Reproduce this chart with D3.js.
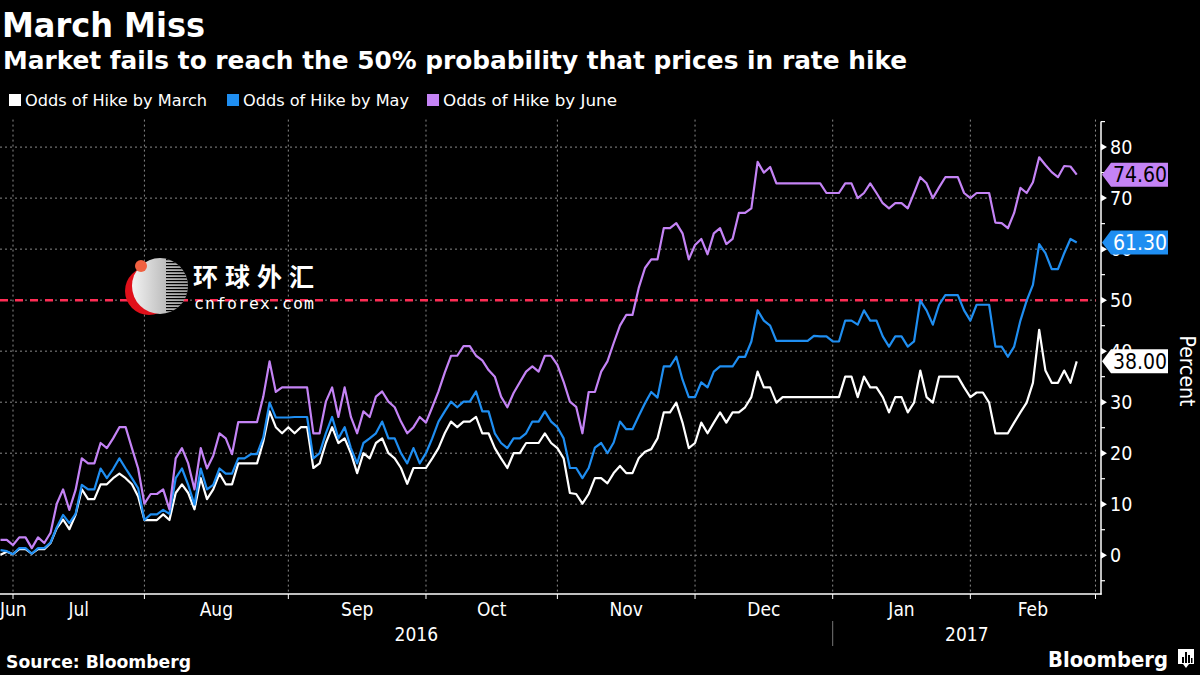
<!DOCTYPE html>
<html>
<head>
<meta charset="utf-8">
<script src="https://cdn.jsdelivr.net/npm/d3@7/dist/d3.min.js"></script>
<style>
  html, body { margin: 0; padding: 0; background: #000; }
  svg { display: block; }
  .cond { font-family: "DejaVu Sans Condensed", "DejaVu Sans", sans-serif; font-stretch: condensed; }
</style>
</head>
<body>
<svg id="chart" width="1200" height="675"></svg>
<script>
// ---------------- DATA ----------------
const title = "March Miss";
const subtitle = "Market fails to reach the 50% probability that prices in rate hike";
const seriesNames = ["Odds of Hike by March", "Odds of Hike by May", "Odds of Hike by June"];
const seriesColors = ["#ffffff", "#1f8ef1", "#c483f5"];
const firstDay = "2016-06-29";   // first weekday shown
const lastAxisDay = "2017-03-01"; // end of the time axis
const monthLabels = ["Jun", "Jul", "Aug", "Sep", "Oct", "Nov", "Dec", "Jan", "Feb"];
const yearLabels = ["2016", "2017"];
const yTicks = [0, 10, 20, 30, 40, 50, 60, 70, 80];
const yMinorTicks = [-5, 5, 15, 25, 35, 45, 55, 65, 75, 85];
const thresholdValue = 50;
const lastValues = [38.00, 61.30, 74.60];

// one value per weekday, starting 2016-06-29
const oddsMarch = [
  0.1, 0.7, 0.2, 1.2, 1.2, 0.3, 1.2, 1.2, 2.4, 5.3,
  7.0, 5.1, 7.9, 12.9, 11.0, 11.0, 13.9, 13.9, 15.1, 16.0,
  15.1, 13.9, 11.5, 6.9, 6.9, 6.9, 8.0, 6.9, 12.2, 13.9,
  12.2, 9.0, 15.1, 11.0, 12.9, 16.0, 13.9, 13.9, 18.0, 18.0,
  18.0, 18.0, 22.3, 28.2, 25.1, 23.9, 25.1,
  23.9, 25.1, 25.1,
  17.1, 18.0, 22.0, 25.1, 22.0, 22.9, 20.0, 16.1, 20.0, 19.0,
  22.0, 22.9, 20.0, 19.0, 17.1, 14.0, 17.1, 17.1, 17.1, 19.0,
  21.0, 23.9, 26.2, 25.1, 26.2, 26.2, 27.1, 23.9, 23.9, 21.0,
  19.0, 17.1, 20.0, 20.0, 22.0, 22.0, 22.0, 23.9, 22.0, 21.0,
  19.0, 12.2,
  12.0, 10.1, 12.0, 15.1, 15.1, 14.1, 16.1, 17.5, 16.1, 16.1,
  19.0, 20.3, 20.8, 22.9, 28.0, 28.0, 29.9, 26.0, 21.0, 22.0,
  26.0, 23.9, 26.0, 28.0, 26.0, 28.0, 28.0, 29.0, 31.0, 36.0,
  32.9, 32.9, 29.9, 31.0, 31.0, 31.0, 31.0, 31.0, 31.0,
  31.0, 31.0, 31.0, 31.0, 35.0, 35.0, 31.0, 35.0, 32.9, 32.9,
  31.0, 28.0, 31.0, 31.0, 28.0, 29.9, 36.2, 31.0, 29.9, 35.0,
  35.0, 35.0, 35.0, 32.9, 31.0, 31.9, 31.9, 29.9, 23.9, 23.9,
  23.9, 26.0, 28.0, 29.9, 33.8, 44.2, 36.2, 33.8, 33.8, 36.2,
  33.8, 38.0
];
const oddsMay = [
  1.0, 0.8, 0.2, 1.4, 1.4, 0.3, 1.4, 1.4, 2.5, 5.5,
  7.9, 6.3, 8.1, 13.8, 12.9, 12.9, 17.0, 15.1, 16.9, 19.0,
  17.0, 15.1, 13.1, 6.9, 8.0, 8.0, 8.9, 8.1, 15.1, 17.0,
  13.8, 9.9, 17.0, 12.9, 13.8, 17.0, 16.0, 16.0, 19.0, 19.0,
  19.8, 19.8, 23.1, 29.9, 27.0, 27.0, 27.0,
  27.1, 27.1, 27.1,
  19.0, 20.0, 23.9, 27.1, 22.9, 25.1, 21.0, 18.0, 22.0, 22.9,
  23.9, 26.2, 22.9, 22.9, 20.0, 18.0, 21.0, 18.0, 20.0, 22.9,
  26.2, 28.2, 30.1, 29.0, 30.1, 30.1, 32.1, 28.2, 28.2, 23.9,
  22.0, 21.0, 22.9, 22.9, 23.9, 26.2, 26.2, 28.2, 26.2, 25.1,
  22.9, 17.1,
  17.1, 15.1, 17.1, 21.1, 22.0, 20.0, 22.1, 26.2, 24.7, 24.7,
  27.3, 29.8, 32.0, 30.9, 37.0, 37.0, 38.9, 34.4, 31.0, 31.0,
  33.9, 32.9, 36.0, 37.0, 37.0, 37.0, 38.9, 38.9, 41.9, 48.0,
  46.0, 45.0, 42.0, 42.0, 42.0, 42.0, 42.0, 42.0, 43.0,
  42.9, 42.9, 41.9, 41.9, 46.0, 46.0, 45.2, 48.0, 46.0, 46.0,
  42.9, 40.9, 42.9, 42.9, 40.9, 41.9, 49.9, 48.0, 45.2, 49.1,
  51.0, 51.0, 51.0, 48.0, 46.0, 49.1, 49.1, 49.1, 40.9, 40.9,
  38.9, 40.9, 46.0, 49.9, 53.0, 61.0, 59.2, 56.1, 56.1, 59.2,
  62.0, 61.3
];
const oddsJune = [
  3.0, 3.0, 2.0, 3.5, 3.5, 1.4, 3.5, 2.4, 4.4, 10.1,
  12.9, 8.9, 12.8, 19.0, 18.0, 18.0, 22.0, 21.0, 22.9, 25.1,
  25.1, 21.0, 17.0, 10.1, 12.0, 12.0, 12.9, 9.0, 19.0, 21.0,
  18.0, 12.9, 21.0, 17.0, 19.5, 23.9, 22.9, 19.8, 26.1, 26.1,
  26.1, 26.1, 31.1, 38.0, 32.0, 32.9, 32.9,
  32.9, 32.9, 32.9,
  23.9, 23.9, 30.1, 32.9, 27.1, 32.9, 27.1, 23.9, 28.2, 27.1,
  31.1, 32.1, 30.1, 29.0, 26.2, 23.9, 25.1, 27.1, 26.0, 29.0,
  32.1, 35.8, 39.1, 39.1, 41.0, 41.0, 39.1, 38.2, 36.3, 35.0,
  31.1, 29.0, 31.8, 33.9, 36.0, 37.0, 36.0, 39.1, 39.1, 37.3,
  34.0, 30.1,
  29.1, 23.9, 32.0, 32.0, 36.0, 38.0, 41.6, 45.0, 47.1, 47.1,
  52.4, 56.3, 58.0, 58.0, 64.1, 64.1, 65.1, 63.1, 58.0, 60.8,
  62.0, 59.0, 63.1, 64.1, 61.0, 62.0, 67.1, 67.1, 68.0, 77.1,
  75.0, 76.1, 72.9, 72.9, 72.9, 72.9, 72.9, 72.9, 72.9,
  72.9, 71.0, 71.0, 71.0, 72.9, 72.9, 70.0, 71.0, 72.9, 71.0,
  69.0, 68.0, 69.0, 69.0, 68.0, 71.0, 74.1, 72.9, 70.0, 72.1,
  74.1, 74.1, 74.1, 71.0, 70.0, 71.0, 71.0, 71.0, 65.2, 65.1,
  64.1, 67.1, 72.0, 71.0, 73.1, 78.0, 76.5, 75.1, 74.1, 76.3,
  76.2, 74.6
];
const seriesValues = [oddsMarch, oddsMay, oddsJune];

// ---------------- SETUP ----------------
const svg = d3.select("#chart");
svg.append("rect").attr("width", 1200).attr("height", 675).attr("fill", "#000");

const parse = d3.timeParse("%Y-%m-%d");
const weekdays = d3.timeDay.range(parse(firstDay), d3.timeDay.offset(parse(lastAxisDay), 1))
  .filter(d => d.getDay() !== 0 && d.getDay() !== 6);
const lastIdx = weekdays.length - 1;

const plotLeft = 0.5, plotRight = 1095.5, axisX = 1101;
const x = d3.scaleLinear().domain([0, lastIdx]).range([plotLeft, plotRight]);
const y = d3.scaleLinear().domain([-7.6, 85]).range([594, 121.6]);

// month boundaries (first weekday of each month)
const monthStarts = [];
weekdays.forEach((d, i) => {
  if (i > 0 && d.getMonth() !== weekdays[i - 1].getMonth()) monthStarts.push(i);
});
const boundaries = [0].concat(monthStarts);
const gridX = monthStarts;

// ---------------- GRID ----------------
const grid = svg.append("g");
grid.selectAll("line.h").data(yTicks).join("line")
  .attr("x1", 0).attr("x2", plotRight)
  .attr("y1", d => y(d)).attr("y2", d => y(d))
  .attr("stroke", "#8a8a8a").attr("stroke-width", 1).attr("stroke-dasharray", "2,3");
grid.selectAll("line.v").data(gridX).join("line")
  .attr("x1", d => x(d)).attr("x2", d => x(d))
  .attr("y1", y(85) - 2).attr("y2", 594)
  .attr("stroke", "#8a8a8a").attr("stroke-width", 1).attr("stroke-dasharray", "2,3");

// threshold line
svg.append("line")
  .attr("x1", 0).attr("x2", plotRight)
  .attr("y1", y(thresholdValue)).attr("y2", y(thresholdValue))
  .attr("stroke", "#ff2d55").attr("stroke-width", 2.5).attr("stroke-dasharray", "8,7");

// ---------------- WATERMARK ----------------
const wm = svg.append("g");
const defs = svg.append("defs");
const grad = defs.append("linearGradient").attr("id", "sph").attr("x1", "0").attr("x2", "1").attr("y1", "0").attr("y2", "0");
grad.append("stop").attr("offset", "0").attr("stop-color", "#f2f2f2");
grad.append("stop").attr("offset", "1").attr("stop-color", "#9a9a9a");
defs.append("clipPath").attr("id", "sphClip").append("circle").attr("cx", 160).attr("cy", 286).attr("r", 28);
wm.append("circle").attr("cx", 149).attr("cy", 291).attr("r", 24).attr("fill", "#e0101a");
wm.append("circle").attr("cx", 160).attr("cy", 286).attr("r", 28).attr("fill", "url(#sph)");
const stripes = wm.append("g").attr("clip-path", "url(#sphClip)");
d3.range(259, 316, 3).forEach(yy => {
  stripes.append("rect").attr("x", 166).attr("y", yy).attr("width", 25).attr("height", 1.2).attr("fill", "#000");
});
wm.append("circle").attr("cx", 141).attr("cy", 266).attr("r", 6).attr("fill", "#f06040");
wm.append("text").attr("x", 193).attr("y", 286)
  .attr("font-family", "Noto Sans CJK SC").attr("font-weight", "bold").attr("font-size", 25)
  .attr("fill", "#fff").attr("textLength", 121).attr("lengthAdjust", "spacing").text("环球外汇");
wm.append("text").attr("x", 194).attr("y", 309)
  .attr("font-family", "DejaVu Sans Mono").attr("font-size", 16.5)
  .attr("fill", "#fff").attr("textLength", 120).text("cnforex.com");

// ---------------- LINES ----------------
const line = d3.line().x((d, i) => x(i)).y(d => y(d));
[0, 1, 2].forEach(s => {
  svg.append("path").datum(seriesValues[s])
    .attr("d", line).attr("fill", "none")
    .attr("stroke", seriesColors[s]).attr("stroke-width", 2.2)
    .attr("stroke-linejoin", "round");
});

// ---------------- AXES ----------------
svg.append("line").attr("x1", 0).attr("x2", axisX + 0.5).attr("y1", 594).attr("y2", 594)
  .attr("stroke", "#fff").attr("stroke-width", 1.5);
svg.selectAll("line.xt").data(gridX).join("line")
  .attr("x1", d => x(d)).attr("x2", d => x(d)).attr("y1", 594).attr("y2", 599)
  .attr("stroke", "#fff").attr("stroke-width", 1);

svg.append("line").attr("x1", axisX).attr("x2", axisX).attr("y1", y(85)).attr("y2", 594.7)
  .attr("stroke", "#fff").attr("stroke-width", 1.5);
svg.selectAll("line.ymin").data(yMinorTicks).join("line")
  .attr("x1", axisX).attr("x2", axisX + 4).attr("y1", d => y(d)).attr("y2", d => y(d))
  .attr("stroke", "#fff").attr("stroke-width", 1.2);
svg.selectAll("path.ytri").data(yTicks).join("path")
  .attr("d", d => `M${axisX},${y(d) - 3.5}L${axisX + 6},${y(d)}L${axisX},${y(d) + 3.5}Z`)
  .attr("fill", "#fff");
svg.selectAll("text.ylab").data(yTicks).join("text")
  .attr("class", "cond")
  .attr("x", 1110).attr("y", d => y(d) + 7)
  .attr("font-size", 19.5).attr("fill", "#fff").text(d => d);

const segs = boundaries.map((b, k) => [b, k + 1 < boundaries.length ? boundaries[k + 1] : lastIdx]);
svg.selectAll("text.mon").data(monthLabels).join("text")
  .attr("class", "cond")
  .attr("x", (d, k) => k === 0 ? 0 : (x(segs[k][0]) + x(segs[k][1])) / 2)
  .attr("text-anchor", (d, k) => k === 0 ? "start" : "middle")
  .attr("y", 616).attr("font-size", 19).attr("fill", "#fff").text(d => d);

const janIdx = weekdays.findIndex(d => d.getFullYear() === 2017);
const yearSpans = [[0, x(janIdx)], [x(janIdx), axisX]];
svg.selectAll("text.yr").data(yearLabels).join("text")
  .attr("class", "cond")
  .attr("x", (d, k) => (yearSpans[k][0] + yearSpans[k][1]) / 2)
  .attr("text-anchor", "middle").attr("y", 641)
  .attr("font-size", 19).attr("fill", "#fff").text(d => d);
svg.append("line").attr("x1", x(janIdx)).attr("x2", x(janIdx)).attr("y1", 621).attr("y2", 646)
  .attr("stroke", "#777").attr("stroke-width", 1);

svg.append("text").attr("class", "cond")
  .attr("transform", "translate(1180,371) rotate(90)")
  .attr("text-anchor", "middle").attr("font-size", 21).attr("fill", "#fff").text("Percent");

// value tags (drawn over the tick labels, as in the original)
const tagText = ["#000", "#fff", "#000"];
[0, 1, 2].forEach(s => {
  const cy = y(lastValues[s]);
  const g = svg.append("g");
  g.append("path")
    .attr("d", `M${axisX + 1},${cy}L${axisX + 10},${cy - 12}L${1168},${cy - 12}L${1168},${cy + 12}L${axisX + 10},${cy + 12}Z`)
    .attr("fill", seriesColors[s]);
  g.append("text").attr("class", "cond")
    .attr("x", 1113).attr("y", cy + 7.5).attr("font-size", 21)
    .attr("fill", tagText[s]).text(lastValues[s].toFixed(2));
});

// ---------------- TITLES & LEGEND ----------------
svg.append("text").attr("x", 2).attr("y", 36.5)
  .attr("font-family", "DejaVu Sans").attr("font-weight", "bold").attr("font-size", 34).attr("fill", "#fff")
  .attr("textLength", 203).attr("lengthAdjust", "spacingAndGlyphs").text(title);
svg.append("text").attr("x", 3).attr("y", 69)
  .attr("font-family", "DejaVu Sans Condensed, DejaVu Sans").attr("font-stretch", "condensed")
  .attr("font-weight", "bold").attr("font-size", 24).attr("fill", "#fff")
  .attr("textLength", 904).attr("lengthAdjust", "spacingAndGlyphs").text(subtitle);

const legendX = [9, 227, 427];
const legendW = [182, 166, 174];
const lg = svg.append("g");
seriesNames.forEach((n, s) => {
  lg.append("rect").attr("x", legendX[s]).attr("y", 94).attr("width", 12).attr("height", 12).attr("fill", seriesColors[s]);
  lg.append("text").attr("class", "cond").attr("x", legendX[s] + 16).attr("y", 106)
    .attr("font-size", 16.5).attr("fill", "#fff")
    .attr("textLength", legendW[s]).attr("lengthAdjust", "spacingAndGlyphs").text(n);
});

// ---------------- FOOTER ----------------
svg.append("text").attr("x", 6).attr("y", 667.5)
  .attr("font-family", "DejaVu Sans").attr("font-weight", "bold").attr("font-size", 17).attr("fill", "#fff")
  .attr("textLength", 185).attr("lengthAdjust", "spacingAndGlyphs").text("Source: Bloomberg");
svg.append("text").attr("x", 1168).attr("y", 667).attr("text-anchor", "end")
  .attr("font-family", "DejaVu Sans Condensed, DejaVu Sans").attr("font-stretch", "condensed")
  .attr("font-weight", "bold").attr("font-size", 22).attr("fill", "#fff")
  .attr("textLength", 120).attr("lengthAdjust", "spacingAndGlyphs").text("Bloomberg");
const logo = svg.append("g");
logo.append("path").attr("d", "M1178,649h16v15h-5l-3,4l-3,-4h-5z").attr("fill", "#fff");
[[1182, 657, 2, 6], [1185, 652, 2, 11], [1188, 655, 2, 8], [1191, 658, 1.5, 5]].forEach(b => {
  logo.append("rect").attr("x", b[0]).attr("y", b[1]).attr("width", b[2]).attr("height", b[3]).attr("fill", "#000");
});
</script>
</body>
</html>
